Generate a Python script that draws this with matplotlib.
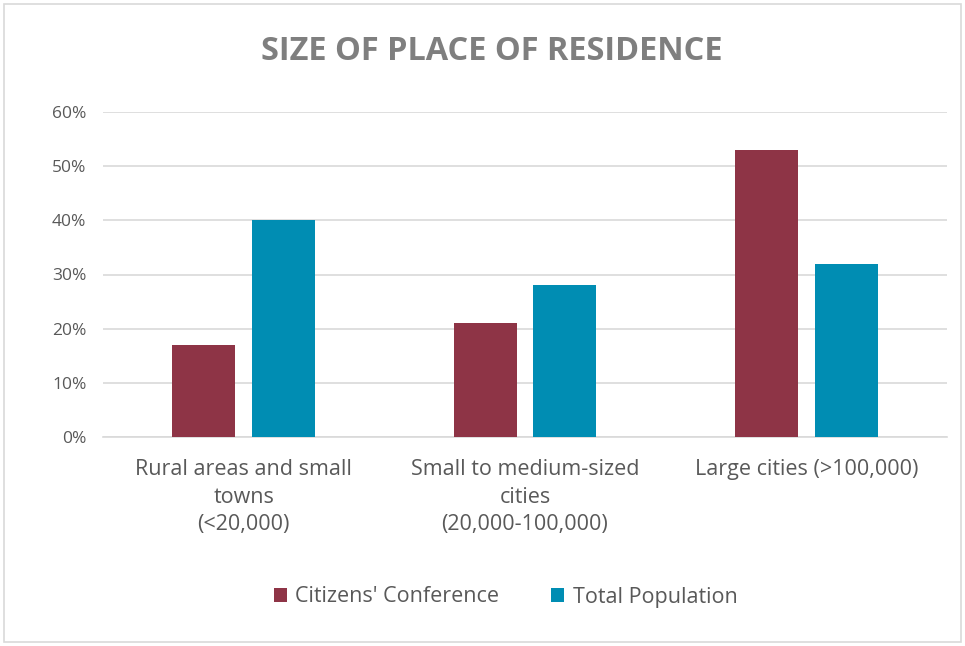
import numpy as np
import matplotlib.pyplot as plt
from matplotlib.ticker import PercentFormatter
from matplotlib.patches import Rectangle

categories = ['Rural areas and small\ntowns\n(<20,000)',
              'Small to medium-sized\ncities\n(20,000-100,000)',
              'Large cities (>100,000)']
conference = [17, 21, 53]
population = [40, 28, 32]
series_names = ["Citizens' Conference", 'Total Population']

red = '#8e3446'
blue = '#008db3'
grey = '#595959'

plt.rcParams['font.family'] = ['Open Sans', 'DejaVu Sans']

fig = plt.figure(figsize=(9.65, 6.46), dpi=100)
ax = fig.add_axes([103 / 965, 1 - 437 / 646, 844 / 965, 325 / 646])

index = np.arange(len(categories))
width = 0.224
offset = 0.142
ax.bar(index - offset, conference, width, color=red, label=series_names[0], zorder=3)
ax.bar(index + offset, population, width, color=blue, label=series_names[1], zorder=3)

ax.set_xlim(-0.5, 2.5)
ax.set_ylim(0, 60)
ax.set_yticks(np.arange(0, 61, 10))
ax.yaxis.set_major_formatter(PercentFormatter(decimals=0))
ax.grid(axis='y', color='#d9d9d9', linewidth=1.2, zorder=0)
for side in ['top', 'right', 'left']:
    ax.spines[side].set_visible(False)
ax.spines['bottom'].set_color('#d9d9d9')
ax.spines['bottom'].set_linewidth(1.2)
ax.tick_params(axis='both', length=0, colors=grey)
ax.tick_params(axis='y', labelsize=12.5, pad=12)
ax.set_xticks(index)
ax.set_xticklabels(categories, fontsize=15.5, color=grey, linespacing=1.4)
ax.tick_params(axis='x', pad=16)

fig.text(492 / 965, 1 - 52 / 646, 'SIZE OF PLACE OF RESIDENCE', ha='center', va='center',
         fontsize=23.4, fontweight='bold', color='#7f7f7f')

fig.legend(loc='center', bbox_to_anchor=(0.524, 1 - 597 / 646), ncol=2, frameon=False,
           fontsize=15.5, labelcolor=grey, handlelength=0.6, handleheight=0.6,
           handletextpad=0.4, columnspacing=2.4)

fig.patches.append(Rectangle((4 / 965, 4 / 646), 957 / 965, 638 / 646, transform=fig.transFigure,
                             fill=False, edgecolor='#d9d9d9', linewidth=1.2))

fig.savefig('out.png', dpi=100)
